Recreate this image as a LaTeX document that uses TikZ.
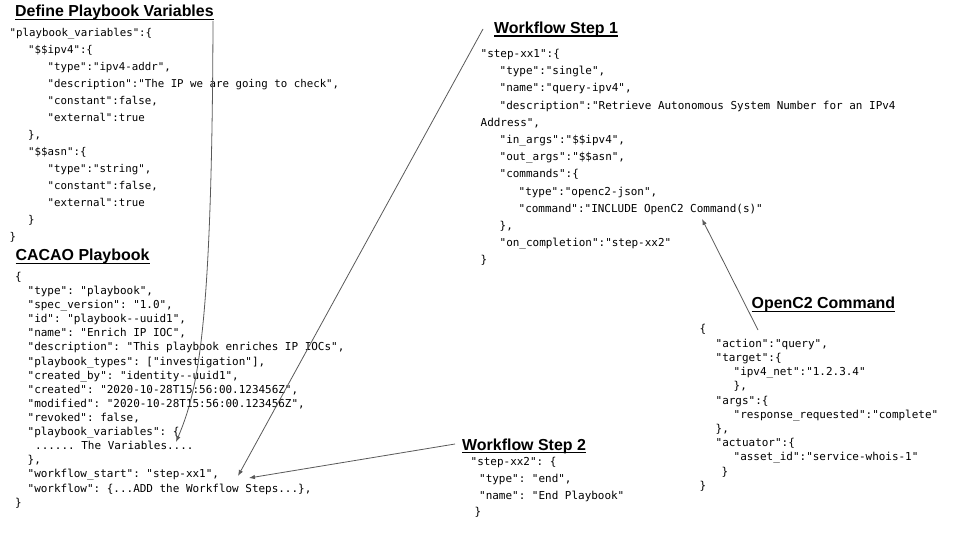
\documentclass[tikz,border=0pt]{standalone}
\usepackage{fontspec}
\setmainfont{Liberation Sans}
\setmonofont{DejaVu Sans Mono}
\usetikzlibrary{arrows.meta}
\begin{document}
\begin{tikzpicture}[x=1bp,y=-1bp,
  head/.style={font=\fontsize{16}{18}\selectfont\bfseries, anchor=base west, inner sep=0pt},
  codeA/.style={font=\ttfamily\fontsize{10.8}{13}\selectfont, anchor=base west, inner sep=0pt},
  codeB/.style={font=\ttfamily\fontsize{11}{13}\selectfont, anchor=base west, inner sep=0pt},
  uline/.style={line width=1.3bp},
  conn/.style={draw=black!65, line width=0.8bp, -{Latex[length=6bp,width=4.5bp]}}]
\useasboundingbox (0,0) rectangle (960,540);

% headings
\node[head] (h1) at (15,17) {Define Playbook Variables};
\node[head] (h2) at (15.5,261) {CACAO Playbook};
\node[head] (h3) at (494,33.5) {Workflow Step 1};
\node[head] (h4) at (462,450) {Workflow Step 2};
\node[head] (h5) at (751.5,309) {OpenC2 Command};
\foreach \h in {h1,h2,h3,h4,h5}
  \draw[uline] ([yshift=-2.4bp]\h.base west) -- ([yshift=-2.4bp]\h.base east);

% block 1: playbook variables
\foreach \dx/\t [count=\i] in {
  0/{"playbook\_variables":\{},
  18.5/{"\$\$ipv4":\{},
  38/{"type":"ipv4-addr",},
  38/{"description":"The IP we are going to check",},
  38/{"constant":false,},
  38/{"external":true},
  18.5/{\},},
  18.5/{"\$\$asn":\{},
  38/{"type":"string",},
  38/{"constant":false,},
  38/{"external":true},
  18.5/{\}},
  0/{\}}}
  \node[codeA] (v\i) at (9.5+\dx, 36.5+17*\i-17) {\t};

% block 2: CACAO playbook
\foreach \dx/\t [count=\i] in {
  0/{\{},
  12.5/{"type": "playbook",},
  12.5/{"spec\_version": "1.0",},
  12.5/{"id": "playbook--uuid1",},
  12.5/{"name": "Enrich IP IOC",},
  12.5/{"description": "This playbook enriches IP IOCs",},
  12.5/{"playbook\_types": ["investigation"],},
  12.5/{"created\_by": "identity--uuid1",},
  12.5/{"created": "2020-10-28T15:56:00.123456Z",},
  12.5/{"modified": "2020-10-28T15:56:00.123456Z",},
  12.5/{"revoked": false,},
  12.5/{"playbook\_variables": \{},
  20/{...... The Variables....},
  12.5/{\},},
  12.5/{"workflow\_start": "step-xx1",},
  12.5/{"workflow": \{...ADD the Workflow Steps...\},},
  0/{\}}}
  \node[codeB] (p\i) at (15+\dx, 280.5+14.1*\i-14.1) {\t};

% block 3: workflow step 1
\foreach \dx/\t [count=\i] in {
  0/{"step-xx1":\{},
  19/{"type":"single",},
  19/{"name":"query-ipv4",},
  19/{"description":"Retrieve Autonomous System Number for an IPv4},
  0/{Address",},
  19/{"in\_args":"\$\$ipv4",},
  19/{"out\_args":"\$\$asn",},
  19/{"commands":\{},
  38/{"type":"openc2-json",},
  38/{"command":"INCLUDE OpenC2 Command(s)"},
  19/{\},},
  19/{"on\_completion":"step-xx2"},
  0/{\}}}
  \node[codeB] (s\i) at (480.5+\dx, 57.5+17.2*\i-17.2) {\t};

% block 4: workflow step 2
\foreach \dx/\t [count=\i] in {
  0/{"step-xx2": \{},
  8.5/{"type": "end",},
  8.5/{"name": "End Playbook"},
  4/{\}}}
  \node[codeB] (t\i) at (470.5+\dx, 465.5+16.8*\i-16.8) {\t};

% block 5: OpenC2 command
\foreach \dx/\t [count=\i] in {
  0/{\{},
  16/{"action":"query",},
  16/{"target":\{},
  34/{"ipv4\_net":"1.2.3.4"},
  34/{\},},
  16/{"args":\{},
  34/{"response\_requested":"complete"},
  16/{\},},
  16/{"actuator":\{},
  34/{"asset\_id":"service-whois-1"},
  22/{\}},
  0/{\}}}
  \node[codeB] (c\i) at (699.5+\dx, 333+14.2*\i-14.2) {\t};

% connector end points
\coordinate (a1s) at (213,21);
\coordinate (a1e) at (176,442);
\coordinate (a2s) at (483,29);
\coordinate (a2e) at (238,476);
\coordinate (a3s) at (455,444);
\coordinate (a3e) at (249,478);
\coordinate (a4s) at (758,330);
\coordinate (a4e) at (702,219);

\draw[conn] (a1s) .. controls (212,330) and (198,390) .. (a1e);
\draw[conn] (a2s) -- (a2e);
\draw[conn] (a3s) -- (a3e);
\draw[conn] (a4s) -- (a4e);
\end{tikzpicture}
\end{document}
